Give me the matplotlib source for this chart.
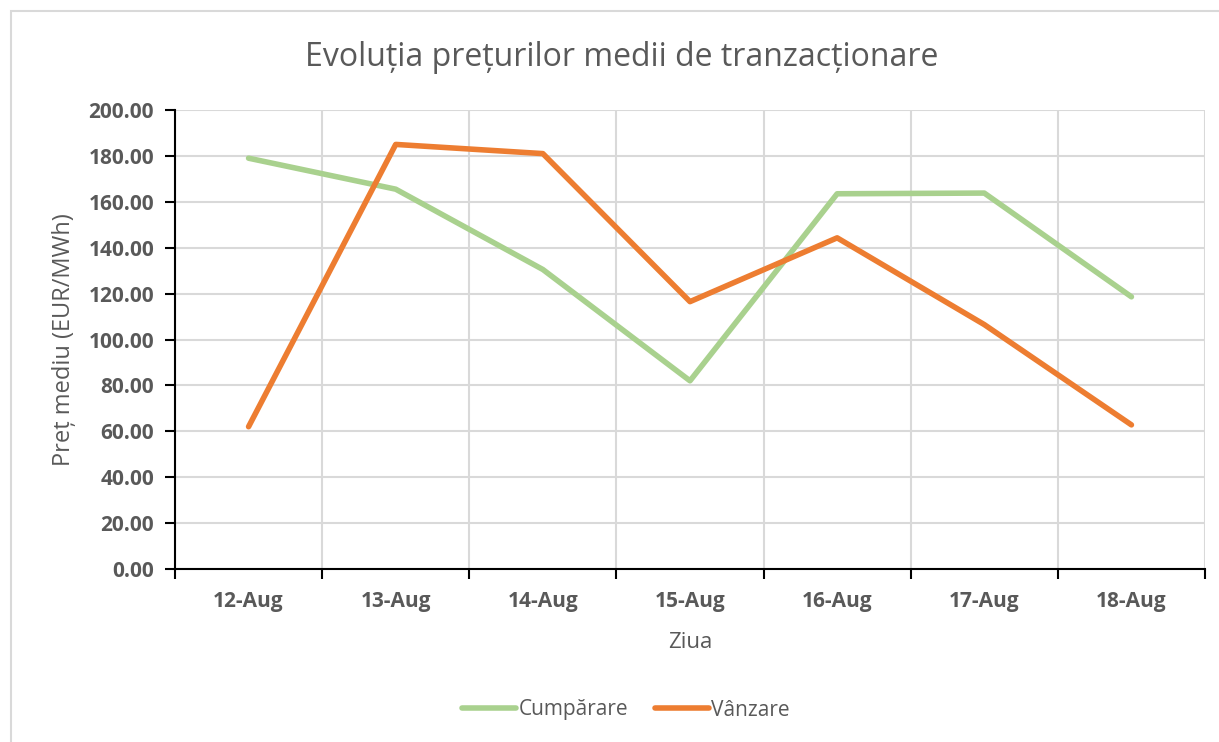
import matplotlib.pyplot as plt
from matplotlib.patches import Rectangle
from matplotlib.lines import Line2D

days = ["12-Aug", "13-Aug", "14-Aug", "15-Aug", "16-Aug", "17-Aug", "18-Aug"]
cumparare = [179.0, 165.5, 130.5, 82.0, 163.5, 163.8, 118.6]
vanzare = [62.0, 185.0, 181.0, 116.5, 144.3, 106.5, 62.8]

GREEN = "#A9D18E"
ORANGE = "#ED7D31"
TEXT = "#595959"
GRID = "#D9D9D9"

plt.rcParams["font.family"] = ["Open Sans", "DejaVu Sans"]

fig = plt.figure(figsize=(12.19, 7.42), dpi=100)
ax = fig.add_axes([175 / 1219, 1 - 569 / 742, (1205 - 175) / 1219, (569 - 110) / 742])

# outer chart frame (only top and left edges visible in the picture)
fig.patches.append(Rectangle((11 / 1219, -0.1), 1.2, 1 - 11 / 742 + 0.1,
                             transform=fig.transFigure, fill=False,
                             edgecolor=GRID, linewidth=1.5))

x = list(range(len(days)))
ax.plot(x, cumparare, color=GREEN, linewidth=4, solid_capstyle="round",
        solid_joinstyle="round", label="Cumpărare", zorder=3)
ax.plot(x, vanzare, color=ORANGE, linewidth=4, solid_capstyle="round",
        solid_joinstyle="round", label="Vânzare", zorder=3)

ax.set_xlim(-0.5, len(days) - 0.5)
ax.set_ylim(0, 200)
ax.set_yticks(range(0, 201, 20))
ax.set_yticklabels([f"{v:.2f}" for v in range(0, 201, 20)])
ax.set_xticks(x)
ax.set_xticklabels(days)
ax.set_xticks([i - 0.5 for i in range(len(days) + 1)], minor=True)

ax.tick_params(axis="x", which="major", length=0, pad=16)
ax.tick_params(axis="x", which="minor", length=7, width=1.5, color="black", direction="out")
ax.tick_params(axis="y", length=7, width=1.5, color="black", direction="out", pad=8)
for lab in ax.get_xticklabels() + ax.get_yticklabels():
    lab.set_fontweight("bold")
    lab.set_fontsize(15)
    lab.set_color(TEXT)

ax.grid(axis="y", which="major", color=GRID, linewidth=1.5)
ax.grid(axis="x", which="minor", color=GRID, linewidth=1.5)
ax.set_axisbelow(True)
for side in ("top", "right"):
    ax.spines[side].set_visible(False)
for side in ("left", "bottom"):
    ax.spines[side].set_linewidth(1.5)
    ax.spines[side].set_color("black")

ax.set_ylabel("Preț mediu (EUR/MWh)", fontsize=17, color=TEXT, labelpad=9)
ax.set_xlabel("Ziua", fontsize=16, color=TEXT, labelpad=14)
fig.text(622 / 1219, 1 - 58 / 742, "Evoluția prețurilor medii de tranzacționare",
         ha="center", va="center", fontsize=23, color=TEXT)

handles = [Line2D([0], [0], color=GREEN, linewidth=4, solid_capstyle="round"),
           Line2D([0], [0], color=ORANGE, linewidth=4, solid_capstyle="round")]
fig.legend(handles, ["Cumpărare", "Vânzare"], loc="center",
           bbox_to_anchor=(626 / 1219, 1 - 710 / 742), ncol=2, frameon=False,
           fontsize=15, labelcolor=TEXT, handlelength=2.6, handletextpad=0.1,
           columnspacing=1.3)

fig.savefig("out.png", dpi=100)
